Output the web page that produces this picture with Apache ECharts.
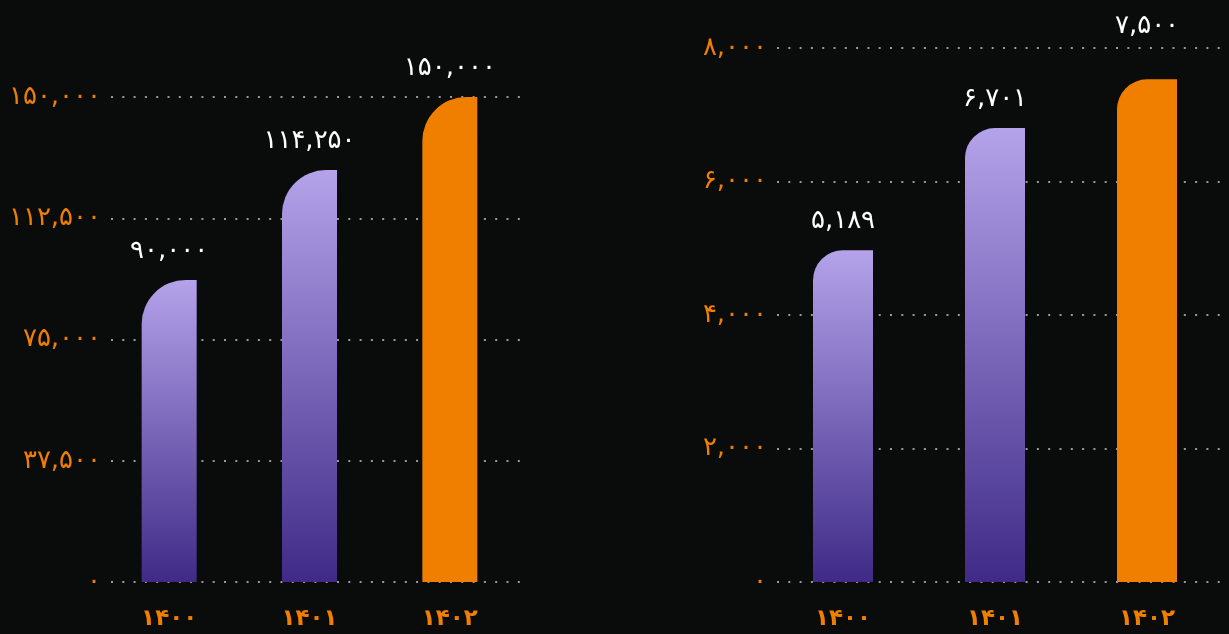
<!DOCTYPE html>
<html>
<head>
<meta charset="utf-8">
<script src="https://cdn.jsdelivr.net/npm/echarts@6/dist/echarts.min.js"></script>
<style>
  html, body { margin: 0; padding: 0; background: #0a0c0c; }
  #chart { width: 1229px; height: 634px; }
</style>
</head>
<body>
<div id="chart"></div>
<script>
// دسته‌ها و داده‌ها
const categories = ['۱۴۰۰', '۱۴۰۱', '۱۴۰۲'];

const leftBars = [93400, 127400, 150000];   // ارتفاع ستون‌ها از روی تصویر
const leftLabels = [90000, 114250, 150000]; // عددهای نوشته‌شده روی ستون‌ها
const leftTicks = [0, 37500, 75000, 112500, 150000];

const rightBars = [4970, 6800, 7530];
const rightLabels = [5189, 6701, 7500];
const rightTicks = [0, 2000, 4000, 6000, 8000];

const ORANGE = '#f07f00';
const FONT = '"DejaVu Sans", sans-serif';

function fa(n) {
  return String(n).replace(/\B(?=(\d{3})+(?!\d))/g, ',')
    .replace(/\d/g, d => '۰۱۲۳۴۵۶۷۸۹'[d]);
}

function purple() {
  return new echarts.graphic.LinearGradient(0, 0, 0, 1, [
    { offset: 0, color: '#b4a2ea' },
    { offset: 1, color: '#3f2b87' }
  ]);
}

function axisGrid(idx, ticks) {
  return {
    x: { gridIndex: idx, type: 'category', data: categories, show: false },
    y: {
      gridIndex: idx,
      type: 'value',
      min: 0,
      max: ticks[ticks.length - 1],
      interval: ticks[1],
      axisLine: { show: false },
      axisTick: { show: false },
      axisLabel: {
        color: ORANGE,
        fontSize: 26,
        fontFamily: FONT,
        margin: 10,
        formatter: v => fa(v)
      },
      splitLine: {
        lineStyle: { color: '#9a9a9a', width: 2, type: [2, 9.3] }
      }
    }
  };
}

function barGrid(idx, ticks) {
  return {
    x: {
      gridIndex: idx,
      type: 'category',
      data: categories,
      axisLine: { show: false },
      axisTick: { show: false },
      axisLabel: {
        color: ORANGE,
        fontSize: 23,
        fontWeight: 'bold',
        fontFamily: FONT,
        margin: 26
      }
    },
    y: {
      gridIndex: idx, type: 'value', min: 0,
      max: ticks[ticks.length - 1], show: false
    }
  };
}

function barSeries(idx, values, labels, width, radius, orangeDist) {
  const lbl = (dist) => ({
    show: true,
    position: 'top',
    distance: dist,
    color: '#ffffff',
    fontSize: 26,
    fontFamily: FONT,
    formatter: p => fa(labels[p.dataIndex])
  });
  return [
    {
      type: 'bar',
      xAxisIndex: idx, yAxisIndex: idx,
      barWidth: width,
      data: values.map((v, i) => i < 2 ? v : '-'),
      itemStyle: { color: purple(), borderRadius: [radius, 0, 0, 0] },
      label: lbl(16)
    },
    {
      type: 'bar',
      xAxisIndex: idx, yAxisIndex: idx,
      barWidth: width,
      barGap: '-100%',
      data: values.map((v, i) => i === 2 ? v : '-'),
      itemStyle: { color: ORANGE, borderRadius: [radius, 0, 0, 0] },
      label: lbl(orangeDist)
    }
  ];
}

const g0 = axisGrid(0, leftTicks);
const g1 = barGrid(1, leftTicks);
const g2 = axisGrid(2, rightTicks);
const g3 = barGrid(3, rightTicks);

const chart = echarts.init(document.getElementById('chart'));
chart.setOption({
  backgroundColor: '#0a0c0c',
  animation: false,
  grid: [
    { left: 111, width: 418, top: 97, bottom: 52 },
    { left: 99, width: 421, top: 97, bottom: 52 },
    { left: 777, width: 446, top: 48, bottom: 52 },
    { left: 767, width: 456, top: 48, bottom: 52 }
  ],
  xAxis: [g0.x, g1.x, g2.x, g3.x],
  yAxis: [g0.y, g1.y, g2.y, g3.y],
  series: [
    ...barSeries(1, leftBars, leftLabels, 55, 44, 16),
    ...barSeries(3, rightBars, rightLabels, 60, 30, 40)
  ]
});
</script>
</body>
</html>
